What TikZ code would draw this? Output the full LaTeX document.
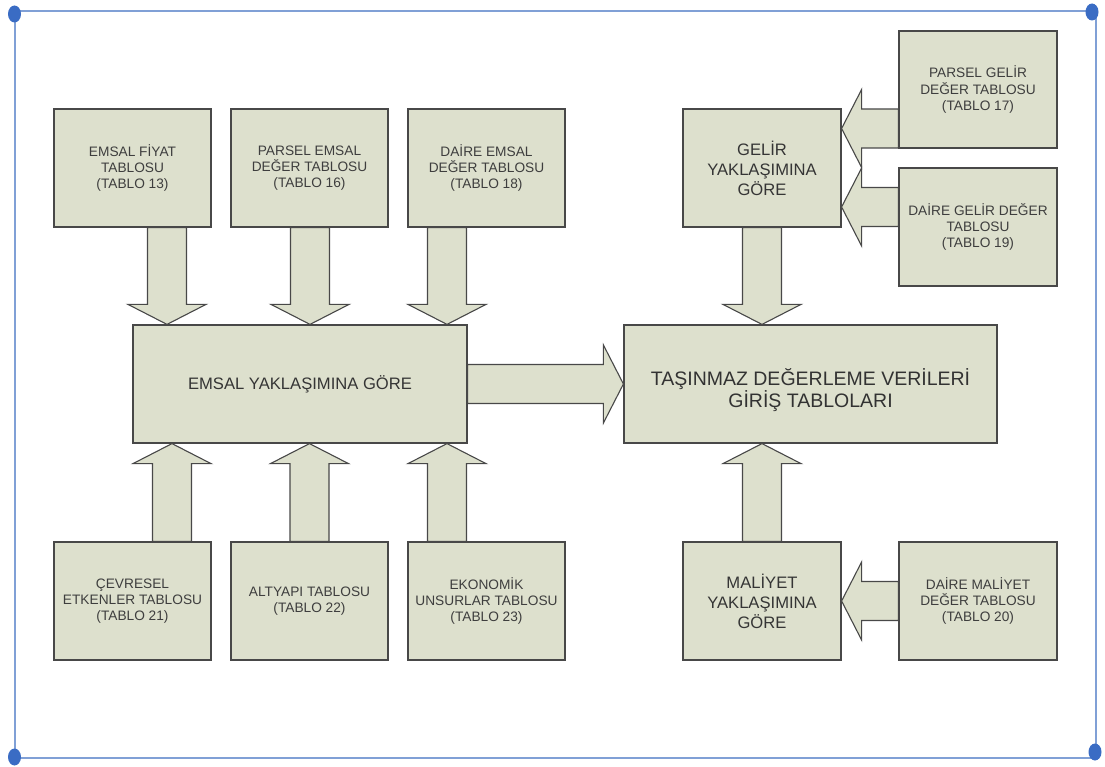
\documentclass[tikz,border=0pt]{standalone}
\usepackage{fontspec}
\setmainfont{Liberation Sans}
\usetikzlibrary{calc}

\definecolor{boxfill}{RGB}{221,224,205}
\definecolor{boxline}{RGB}{72,72,72}
\definecolor{boxtext}{RGB}{62,62,62}
\definecolor{framelin}{RGB}{128,160,214}
\definecolor{framedot}{RGB}{58,108,196}

% Block arrow from point #1 to point #2: shaft 39 wide, head 78 wide, 20 long
\newcommand\fatarrow[2]{%
  \filldraw[arrowbody] let \p1=(#1), \p2=(#2),
      \n1={atan2(\y2-\y1,\x2-\x1)}, \n2={veclen(\x2-\x1,\y2-\y1)} in
    [shift={(\p1)}, rotate=\n1]
    (0pt,-19.5pt) -- (\n2-20pt,-19.5pt) -- (\n2-20pt,-39pt) -- (\n2,0pt)
    -- (\n2-20pt,39pt) -- (\n2-20pt,19.5pt) -- (0pt,19.5pt) -- cycle;}

\tikzset{
  tbox/.style={rectangle, draw=boxline, fill=boxfill, line width=1.2pt,
    inner sep=0pt, minimum width=157pt, minimum height=118pt,
    align=center, text=boxtext, font=\fontsize{13.7}{16.3}\selectfont},
  midbox/.style={tbox, font=\fontsize{16.6}{20}\selectfont, text=boxtext!85!black},
  mainbox/.style={tbox, minimum height=118pt, font=\fontsize{19.5}{20.5}\selectfont,
    text=boxtext!80!black},
  arrowbody/.style={fill=boxfill, draw=boxline, line width=1.1pt, line join=miter},
  frameline/.style={draw=framelin, line width=2pt},
  framecorner/.style={fill=framedot}
}

\begin{document}
\begin{tikzpicture}[x=1pt, y=-1pt]
\useasboundingbox (0,0) rectangle (1105,767);

% outer frame with corner handles
\draw[frameline] (14.5,11) rectangle (1096,757.5);
\foreach \cx/\cy in {14.5/14, 1092/12, 14.5/757, 1095/752}
  \fill[framecorner] (\cx,\cy) ellipse (6.5 and 8.5);

% comparison approach: source tables
\node[tbox] (b1) at (132.5,168) {EMSAL FİYAT\\TABLOSU\\(TABLO 13)};
\node[tbox] (b2) at (309.5,168) {PARSEL EMSAL\\DEĞER TABLOSU\\(TABLO 16)};
\node[tbox] (b3) at (486.5,168) {DAİRE EMSAL\\DEĞER TABLOSU\\(TABLO 18)};
\node[midbox, minimum width=334pt] (m) at (300,384) {EMSAL YAKLAŞIMINA GÖRE};
\node[tbox] (c1) at (132.5,601) {ÇEVRESEL\\ETKENLER TABLOSU\\(TABLO 21)};
\node[tbox] (c2) at (309.5,601) {ALTYAPI TABLOSU\\(TABLO 22)};
\node[tbox] (c3) at (486.5,601) {EKONOMİK\\UNSURLAR TABLOSU\\(TABLO 23)};

% target
\node[mainbox, minimum width=373pt] (t) at (810.5,384) {};
\node[font=\fontsize{19.5}{20.5}\selectfont, text=boxtext!80!black, align=center,
  inner sep=0pt] (tl) at ([yshift=-6pt]t.center)
  {TAŞINMAZ DEĞERLEME VERİLERİ\\GİRİŞ TABLOLARI};

% income approach
\node[midbox, minimum width=158pt] (g) at (762,168) {GELİR\\YAKLAŞIMINA\\GÖRE};
\node[tbox, minimum width=158pt, minimum height=117pt] (pg) at (978,89.5)
  {PARSEL GELİR\\DEĞER TABLOSU\\(TABLO 17)};
\node[tbox, minimum width=158pt] (dg) at (978,227)
  {DAİRE GELİR DEĞER\\TABLOSU\\(TABLO 19)};

% cost approach
\node[midbox, minimum width=158pt] (ml) at (762,601) {MALİYET\\YAKLAŞIMINA\\GÖRE};
\node[tbox, minimum width=158pt] (dm) at (978,601)
  {DAİRE MALİYET\\DEĞER TABLOSU\\(TABLO 20)};

% arrow start points
\coordinate (sb1) at ([xshift=34.5pt]b1.south);
\coordinate (sb2) at ([xshift=0.5pt]b2.south);
\coordinate (sb3) at ([xshift=-39.5pt]b3.south);
\coordinate (sc1) at ([xshift=39.5pt]c1.north);
\coordinate (sc2) at (c2.north);
\coordinate (sc3) at ([xshift=-39.5pt]c3.north);
\coordinate (spg) at ([yshift=-39pt]pg.west);
\coordinate (sdg) at ([yshift=20pt]dg.west);

\fatarrow{sb1}{sb1 |- m.north}
\fatarrow{sb2}{sb2 |- m.north}
\fatarrow{sb3}{sb3 |- m.north}
\fatarrow{sc1}{sc1 |- m.south}
\fatarrow{sc2}{sc2 |- m.south}
\fatarrow{sc3}{sc3 |- m.south}
\fatarrow{m.east}{m.east -| t.west}
\fatarrow{g.south}{g.south |- t.north}
\fatarrow{ml.north}{ml.north |- t.south}
\fatarrow{spg}{spg -| g.east}
\fatarrow{sdg}{sdg -| g.east}
\fatarrow{dm.west}{dm.west -| ml.east}
\end{tikzpicture}
\end{document}
